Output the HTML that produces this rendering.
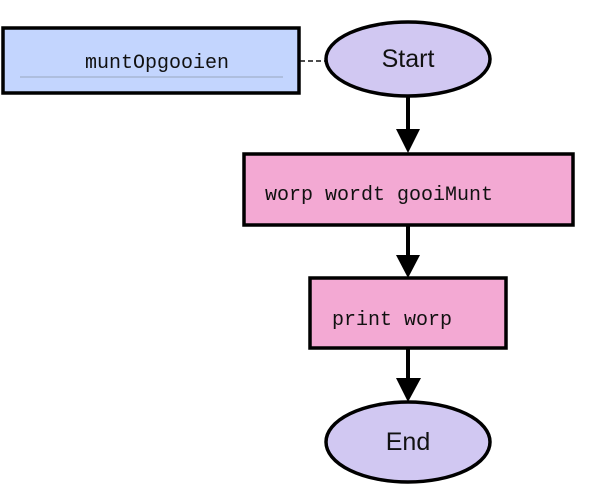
<!DOCTYPE html>
<html><head><style>
html,body{margin:0;padding:0;background:#fff;}
svg{display:block;}
.m{font-family:"Liberation Mono","DejaVu Sans Mono",monospace;font-size:20px;fill:#111;}
.s{font-family:"Liberation Sans",sans-serif;font-size:25px;fill:#111;}
</style></head><body>
<svg width="589" height="502" viewBox="0 0 589 502" xmlns="http://www.w3.org/2000/svg">
<rect x="3" y="28" width="296" height="65" fill="#c3d5fe" stroke="#000" stroke-width="3.5"/>
<line x1="20" y1="77" x2="283" y2="77" stroke="#9aa6bd" stroke-width="1"/>
<text class="m" x="157" y="68" text-anchor="middle">muntOpgooien</text>
<line x1="300" y1="61" x2="327" y2="61" stroke="#111" stroke-width="1.5" stroke-dasharray="5,3"/>
<ellipse cx="408" cy="59" rx="82" ry="37" fill="#d1c8f2" stroke="#000" stroke-width="3.5"/>
<text class="s" x="408" y="67" text-anchor="middle">Start</text>
<line x1="408" y1="96" x2="408" y2="130" stroke="#000" stroke-width="4"/>
<polygon points="396,129 420,129 408,153" fill="#000"/>
<rect x="244" y="154" width="329" height="71" fill="#f3a9d3" stroke="#000" stroke-width="3.5"/>
<text class="m" x="265" y="200">worp wordt gooiMunt</text>
<line x1="408" y1="225" x2="408" y2="256" stroke="#000" stroke-width="4"/>
<polygon points="396,255 420,255 408,278" fill="#000"/>
<rect x="310" y="278" width="196" height="70" fill="#f3a9d3" stroke="#000" stroke-width="3.5"/>
<text class="m" x="332" y="325">print worp</text>
<line x1="408" y1="348" x2="408" y2="380" stroke="#000" stroke-width="4"/>
<polygon points="396,378 421,378 408,402" fill="#000"/>
<ellipse cx="408" cy="442" rx="82" ry="40" fill="#d1c8f2" stroke="#000" stroke-width="3.5"/>
<text class="s" x="408" y="450" text-anchor="middle">End</text>
</svg>
</body></html>
